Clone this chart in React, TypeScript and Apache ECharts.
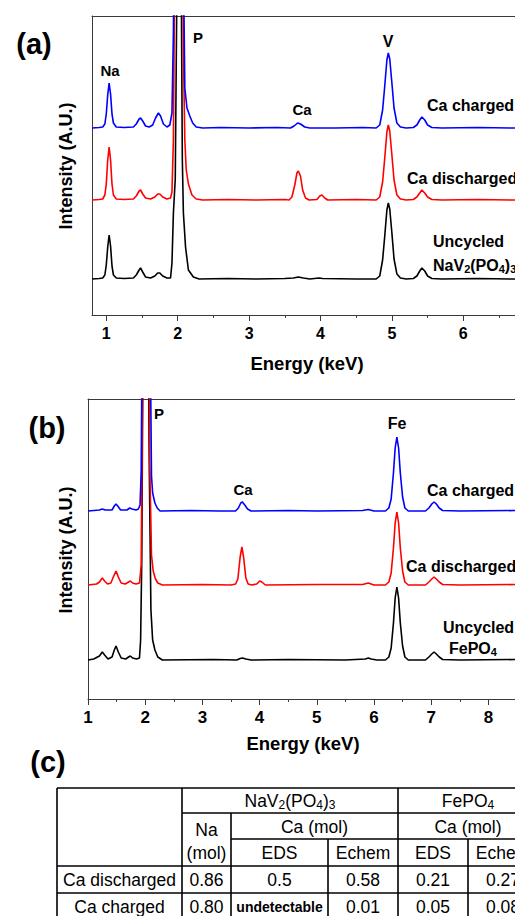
import React, { useEffect, useRef } from "react";
import * as echarts from "echarts";

type Pt = [number, number];
const FONT = '"Liberation Sans", Arial, Helvetica, sans-serif';

// ---------- Panel (a): NaV2(PO4)3 spectra (intensity above own baseline, A.U.) ----------
const A_TICKS = [1, 2, 3, 4, 5, 6, 7];
const A_MINOR = [1.5, 2.5, 3.5, 4.5, 5.5, 6.5];
const A_OFFSETS = { charged: 187, discharged: 115, uncycled: 36 };

const A_CHARGED: Pt[] = [
  [0.8, 0], [0.9, 0.5], [0.95, 1], [0.98, 4], [1.0, 14], [1.02, 33], [1.04, 45], [1.06, 34], [1.08, 14], [1.1, 5], [1.14, 1],
  [1.25, 0.5], [1.38, 1], [1.42, 4], [1.46, 9], [1.48, 10], [1.51, 7], [1.55, 2], [1.6, 1], [1.65, 3], [1.69, 10], [1.73, 15],
  [1.76, 12], [1.8, 4], [1.85, 1], [1.89, 3], [1.92, 15], [1.94, 95], [1.96, 260], [2.0, 480], [2.05, 480], [2.075, 200],
  [2.1, 40], [2.13, 20], [2.17, 12], [2.21, 5], [2.26, 1], [2.35, 0], [2.6, 0.5], [3.0, 0], [3.4, 0.5], [3.58, 0], [3.63, 2],
  [3.68, 5], [3.72, 4], [3.78, 1], [3.85, 0], [4.2, 0], [4.6, 0.5], [4.78, 0], [4.83, 3], [4.87, 18], [4.9, 42], [4.93, 68],
  [4.95, 75], [4.97, 69], [5.0, 45], [5.03, 20], [5.07, 5], [5.12, 1], [5.2, 0], [5.3, 0.5], [5.35, 3], [5.39, 8], [5.42, 11],
  [5.46, 8], [5.5, 3], [5.56, 0.5], [5.7, 0], [6.2, 0.5], [6.7, 0], [7.0, 0],
];
const A_DISCHARGED: Pt[] = [
  [0.8, 0], [0.9, 0.5], [0.95, 1], [0.98, 5], [1.0, 16], [1.02, 40], [1.04, 53], [1.06, 40], [1.08, 16], [1.1, 5], [1.14, 1],
  [1.25, 0.5], [1.38, 1], [1.42, 4], [1.46, 9], [1.48, 10], [1.51, 6], [1.55, 2], [1.62, 1], [1.68, 3], [1.72, 6], [1.75, 6],
  [1.79, 3], [1.85, 1], [1.9, 2], [1.92, 8], [1.94, 60], [1.96, 250], [2.0, 480], [2.05, 480], [2.07, 250], [2.08, 150],
  [2.1, 60], [2.12, 30], [2.15, 16], [2.2, 5], [2.26, 1], [2.35, 0], [2.7, 0.5], [3.1, 0], [3.5, 0.5], [3.56, 0], [3.6, 3],
  [3.64, 15], [3.67, 27], [3.69, 29], [3.72, 24], [3.75, 10], [3.79, 2], [3.84, 0], [3.95, 0.5], [3.99, 4], [4.02, 5],
  [4.06, 2], [4.1, 0], [4.5, 0.5], [4.78, 0], [4.83, 3], [4.87, 18], [4.9, 42], [4.93, 68], [4.95, 75], [4.97, 69], [5.0, 45],
  [5.03, 20], [5.07, 5], [5.12, 1], [5.2, 0], [5.3, 0.5], [5.35, 3], [5.39, 7], [5.42, 10], [5.46, 7], [5.5, 3], [5.56, 0.5],
  [5.7, 0], [6.2, 0.5], [6.7, 0], [7.0, 0],
];
const A_UNCYCLED: Pt[] = [
  [0.8, 0], [0.9, 0.5], [0.95, 1], [0.98, 4], [1.0, 14], [1.02, 32], [1.04, 44], [1.06, 33], [1.08, 13], [1.1, 4], [1.14, 1],
  [1.25, 0.5], [1.38, 1], [1.42, 4], [1.46, 9], [1.48, 11], [1.51, 7], [1.55, 2], [1.62, 1], [1.68, 3], [1.72, 6], [1.75, 6],
  [1.79, 3], [1.85, 1], [1.9, 1], [1.92, 16], [1.94, 66], [1.966, 100], [1.99, 300], [2.02, 480], [2.05, 300], [2.065, 120],
  [2.08, 66], [2.11, 32], [2.15, 9], [2.22, 2], [2.3, 0], [2.7, 0.5], [3.1, 0], [3.5, 0.5], [3.62, 1], [3.69, 2], [3.76, 1],
  [3.85, 0], [3.98, 1], [4.03, 0.5], [4.5, 0], [4.78, 0], [4.83, 3], [4.87, 19], [4.9, 43], [4.93, 69], [4.95, 76], [4.97, 70],
  [5.0, 46], [5.03, 20], [5.07, 5], [5.12, 1], [5.2, 0], [5.3, 0.5], [5.35, 3], [5.39, 8], [5.42, 11], [5.46, 8], [5.5, 3],
  [5.56, 0.5], [5.7, 0], [6.2, 0.5], [6.7, 0], [7.0, 0],
];

// ---------- Panel (b): FePO4 spectra ----------
const B_TICKS = [1, 2, 3, 4, 5, 6, 7, 8, 9];
const B_MINOR = [1.5, 2.5, 3.5, 4.5, 5.5, 6.5, 7.5, 8.5];
const B_OFFSETS = { charged: 188, discharged: 114, uncycled: 39 };

const B_CHARGED: Pt[] = [
  [1.0, 0], [1.1, 0.5], [1.2, 1], [1.25, 2], [1.3, 1], [1.42, 1], [1.46, 5], [1.49, 7], [1.52, 5], [1.57, 1], [1.68, 1],
  [1.73, 3], [1.77, 2], [1.84, 1], [1.88, 2], [1.91, 6], [1.93, 40], [1.95, 200], [1.98, 450], [2.06, 450], [2.09, 160],
  [2.11, 35], [2.13, 18], [2.17, 8], [2.21, 3], [2.26, 0], [2.8, 0.5], [3.3, 0], [3.58, 0], [3.63, 3], [3.67, 8], [3.7, 9],
  [3.74, 6], [3.79, 2], [3.85, 0], [4.5, 0.5], [5.0, 0], [5.8, 0.5], [5.9, 1.5], [6.0, 0], [6.2, 0], [6.26, 3], [6.3, 12],
  [6.34, 38], [6.37, 63], [6.4, 74], [6.43, 63], [6.46, 38], [6.5, 14], [6.54, 3], [6.6, 0], [6.9, 0], [6.96, 3], [7.01, 7],
  [7.05, 9], [7.09, 7], [7.14, 3], [7.2, 0.5], [7.5, 0], [8.5, 0.5], [9.0, 0],
];
const B_DISCHARGED: Pt[] = [
  [1.0, 0], [1.15, 1], [1.2, 3], [1.25, 7], [1.29, 4], [1.34, 1], [1.4, 2], [1.45, 9], [1.49, 14], [1.53, 8], [1.58, 2],
  [1.65, 1], [1.71, 3], [1.74, 4], [1.78, 2], [1.84, 1], [1.9, 2], [1.93, 20], [1.96, 250], [2.0, 450], [2.04, 450],
  [2.07, 250], [2.08, 120], [2.11, 30], [2.14, 14], [2.18, 6], [2.22, 2], [2.3, 0], [3.0, 0.5], [3.5, 0], [3.58, 1],
  [3.62, 6], [3.66, 28], [3.69, 38], [3.72, 28], [3.76, 7], [3.8, 1], [3.86, 0], [3.95, 1], [4.0, 4], [4.04, 3], [4.1, 0],
  [5.0, 0.5], [5.8, 0.5], [5.9, 2], [6.0, 0], [6.2, 0], [6.26, 3], [6.3, 12], [6.34, 37], [6.37, 62], [6.4, 73], [6.43, 62],
  [6.46, 37], [6.5, 14], [6.54, 3], [6.6, 0], [6.9, 0], [6.96, 3], [7.01, 6], [7.05, 8], [7.09, 6], [7.14, 3], [7.2, 0.5],
  [7.5, 0], [8.5, 0.5], [9.0, 0],
];
const B_UNCYCLED: Pt[] = [
  [1.0, 0], [1.1, 1], [1.2, 4], [1.25, 8], [1.29, 5], [1.35, 1], [1.42, 3], [1.46, 10], [1.49, 14], [1.53, 8], [1.58, 2],
  [1.66, 1], [1.71, 3], [1.74, 4], [1.78, 2], [1.85, 1], [1.9, 2], [1.92, 20], [1.94, 100], [1.96, 300], [1.99, 450],
  [2.04, 450], [2.07, 200], [2.1, 50], [2.13, 20], [2.17, 10], [2.22, 3], [2.3, 0], [3.2, 0.5], [3.6, 0], [3.66, 1.5],
  [3.7, 2], [3.76, 1], [3.85, 0], [4.5, 0.5], [5.5, 0], [5.85, 1], [5.9, 2], [5.95, 1], [6.05, 0], [6.2, 0], [6.26, 3],
  [6.3, 12], [6.34, 37], [6.37, 62], [6.4, 73], [6.43, 62], [6.46, 37], [6.5, 14], [6.54, 3], [6.6, 0], [6.9, 0], [6.96, 3],
  [7.01, 6], [7.05, 8], [7.09, 6], [7.14, 3], [7.2, 0.5], [7.5, 0], [8.5, 0.5], [9.0, 0],
];

// ---------- Table (c) ----------
const TABLE_ROWS = ["Ca discharged", "Ca charged"];
const NA_MOL = ["0.86", "0.80"];
const NVP_EDS = ["0.5", "undetectable"];
const NVP_ECHEM = ["0.58", "0.01"];
const FP_EDS = ["0.21", "0.05"];
const FP_ECHEM = ["0.27", "0.08"];

const BLUE = "#0000ff";
const RED = "#ff0000";
const BLACK = "#000000";
const AXIS_COLOR = "#3a3a3a";

function shift(arr: Pt[], off: number) {
  return arr.map(([e, v]) => [e, v + off]);
}

function line(name: string, data: any[], color: string, gi: number) {
  return {
    name,
    type: "line",
    data,
    xAxisIndex: gi * 3,
    yAxisIndex: gi,
    symbol: "none",
    showSymbol: false,
    clip: true,
    silent: true,
    lineStyle: { color, width: 1.6 },
  };
}

function xAxes(gi: number, min: number, max: number, ticks: number[], minor: number[], fs: number) {
  const common = {
    gridIndex: gi,
    type: "value",
    min,
    max,
    splitLine: { show: false },
  };
  return [
    {
      ...common,
      position: "bottom",
      axisLine: { show: true, onZero: false, lineStyle: { color: AXIS_COLOR, width: 1 } },
      axisTick: { show: true, inside: false, length: 6, customValues: ticks, lineStyle: { color: AXIS_COLOR, width: 1 } },
      axisLabel: {
        show: true,
        customValues: ticks,
        margin: 10,
        color: "#000",
        fontSize: fs,
        fontWeight: "bold",
        fontFamily: FONT,
      },
    },
    {
      ...common,
      position: "bottom",
      axisLine: { show: false, onZero: false },
      axisTick: { show: true, inside: false, length: 3, customValues: minor, lineStyle: { color: AXIS_COLOR, width: 1 } },
      axisLabel: { show: false },
    },
    {
      ...common,
      position: "top",
      axisLine: { show: true, onZero: false, lineStyle: { color: AXIS_COLOR, width: 1 } },
      axisTick: { show: false },
      axisLabel: { show: false },
    },
  ];
}

function txt(text: string, x: number, y: number, fontSize: number, opts: any = {}) {
  return {
    type: "text",
    x,
    y,
    silent: true,
    rotation: opts.rotation || 0,
    style: {
      text,
      fill: "#000",
      fontSize,
      fontWeight: opts.weight || "bold",
      fontFamily: FONT,
      align: opts.align || "center",
      verticalAlign: "middle",
      rich: opts.rich,
    },
  };
}

function subRich(fs: number, weight: string) {
  return {
    n: { fontSize: fs, fontWeight: weight, fontFamily: FONT, fill: "#000", lineHeight: fs + 2 },
    s: { fontSize: Math.round(fs * 0.68), fontWeight: weight, fontFamily: FONT, fill: "#000", lineHeight: 8, verticalAlign: "bottom" },
  };
}

function buildTable() {
  const els: any[] = [];
  const X = [57, 182, 231, 328, 398, 468, 538];
  const Y = [788, 813, 839, 866, 893, 920];
  const L = (x1: number, y1: number, x2: number, y2: number) => ({
    type: "line",
    silent: true,
    shape: { x1, y1, x2, y2 },
    style: { stroke: "#000", lineWidth: 1.6 },
  });
  els.push(L(X[0], Y[0], 560, Y[0]));
  els.push(L(X[1], Y[1], 560, Y[1]));
  els.push(L(X[2], Y[2], 560, Y[2]));
  els.push(L(X[0], Y[3], 560, Y[3]));
  els.push(L(X[0], Y[4], 560, Y[4]));
  els.push(L(X[0], Y[0], X[0], Y[5]));
  els.push(L(X[1], Y[0], X[1], Y[5]));
  els.push(L(X[2], Y[1], X[2], Y[5]));
  els.push(L(X[3], Y[2], X[3], Y[5]));
  els.push(L(X[4], Y[0], X[4], Y[5]));
  els.push(L(X[5], Y[2], X[5], Y[5]));
  els.push(L(X[6], Y[0], X[6], Y[5]));

  const fs = 17.5;
  const reg = { weight: "normal" };
  const mid = (a: number, b: number) => (a + b) / 2;
  els.push(
    txt("{n|NaV}{s|2}{n|(PO}{s|4}{n|)}{s|3}", mid(X[1], X[4]), 801, fs, { weight: "normal", rich: subRich(fs, "normal") })
  );
  els.push(txt("{n|FePO}{s|4}", mid(X[4], X[6]), 801, fs, { weight: "normal", rich: subRich(fs, "normal") }));
  els.push(txt("Na", mid(X[1], X[2]), 830, fs, reg));
  els.push(txt("(mol)", mid(X[1], X[2]), 853, fs, reg));
  els.push(txt("Ca (mol)", mid(X[2], X[4]), 827, fs, reg));
  els.push(txt("Ca (mol)", mid(X[4], X[6]), 827, fs, reg));
  els.push(txt("EDS", mid(X[2], X[3]), 853, fs, reg));
  els.push(txt("Echem", mid(X[3], X[4]), 853, fs, reg));
  els.push(txt("EDS", mid(X[4], X[5]), 853, fs, reg));
  els.push(txt("Echem", mid(X[5], X[6]), 853, fs, reg));
  TABLE_ROWS.forEach((r, i) => {
    const y = mid(Y[3 + i], Y[4 + i]);
    els.push(txt(r, mid(X[0], X[1]), y, fs, reg));
    els.push(txt(NA_MOL[i], mid(X[1], X[2]), y, fs, reg));
    const eds = NVP_EDS[i];
    if (eds === "undetectable") els.push(txt(eds, mid(X[2], X[3]), y, 14, { weight: "bold" }));
    else els.push(txt(eds, mid(X[2], X[3]), y, fs, reg));
    els.push(txt(NVP_ECHEM[i], mid(X[3], X[4]), y, fs, reg));
    els.push(txt(FP_EDS[i], mid(X[4], X[5]), y, fs, reg));
    els.push(txt(FP_ECHEM[i], mid(X[5], X[6]), y, fs, reg));
  });
  return els;
}

export default function App() {
  const ref = useRef<HTMLDivElement>(null);
  useEffect(() => {
    if (!ref.current) return;
    const chart = echarts.init(ref.current, null, { renderer: "svg" });
    const graphics: any[] = [
      // panel (a)
      txt("(a)", 34, 44, 29),
      txt("Intensity (A.U.)", 66, 166, 18, { rotation: Math.PI / 2 }),
      txt("Energy (keV)", 307, 363, 18.5),
      txt("Na", 110, 70, 15),
      txt("P", 198, 37, 15),
      txt("Ca", 302, 109, 15),
      txt("V", 388, 41, 16),
      txt("Ca charged", 427, 105, 16, { align: "left" }),
      txt("Ca discharged", 407, 178, 16, { align: "left" }),
      txt("Uncycled", 433, 241, 16, { align: "left" }),
      txt("{n|NaV}{s|2}{n|(PO}{s|4}{n|)}{s|3}", 433, 265, 16, { align: "left", rich: subRich(16, "bold") }),
      // panel (b)
      txt("(b)", 47, 428, 29),
      txt("Intensity (A.U.)", 66, 550, 18, { rotation: Math.PI / 2 }),
      txt("Energy (keV)", 303, 743, 18.5),
      txt("P", 159, 413, 15),
      txt("Fe", 397, 423, 16),
      txt("Ca", 243, 489, 15),
      txt("Ca charged", 427, 490, 16, { align: "left" }),
      txt("Ca discharged", 406, 566, 16, { align: "left" }),
      txt("Uncycled", 443, 627, 16, { align: "left" }),
      txt("{n|FePO}{s|4}", 449, 648, 16, { align: "left", rich: subRich(16, "bold") }),
      // panel (c)
      txt("(c)", 48, 762, 29),
      ...buildTable(),
    ];
    chart.setOption({
      animation: false,
      backgroundColor: "#ffffff",
      grid: [
        { left: 92, top: 16, width: 442.7, height: 299 },
        { left: 88, top: 399, width: 457.6, height: 300 },
      ],
      xAxis: [...xAxes(0, 0.8, 7, A_TICKS, A_MINOR, 16), ...xAxes(1, 1, 9, B_TICKS, B_MINOR, 17)],
      yAxis: [0, 1].map((gi) => ({
        gridIndex: gi,
        type: "value",
        min: 0,
        max: gi === 0 ? 299 : 300,
        axisLine: { show: true, onZero: false, lineStyle: { color: AXIS_COLOR, width: 1 } },
        axisTick: { show: false },
        axisLabel: { show: false },
        splitLine: { show: false },
      })),
      series: [
        line("A uncycled", shift(A_UNCYCLED, A_OFFSETS.uncycled), BLACK, 0),
        line("A discharged", shift(A_DISCHARGED, A_OFFSETS.discharged), RED, 0),
        line("A charged", shift(A_CHARGED, A_OFFSETS.charged), BLUE, 0),
        line("B uncycled", shift(B_UNCYCLED, B_OFFSETS.uncycled), BLACK, 1),
        line("B discharged", shift(B_DISCHARGED, B_OFFSETS.discharged), RED, 1),
        line("B charged", shift(B_CHARGED, B_OFFSETS.charged), BLUE, 1),
      ],
      graphic: { elements: graphics },
    });
    return () => chart.dispose();
  }, []);
  return (
    <div
      style={{
        position: "fixed",
        left: 0,
        top: 0,
        width: 515,
        height: 916,
        overflow: "hidden",
        background: "#fff",
      }}
    >
      <div ref={ref} style={{ width: 560, height: 916 }} />
    </div>
  );
}
